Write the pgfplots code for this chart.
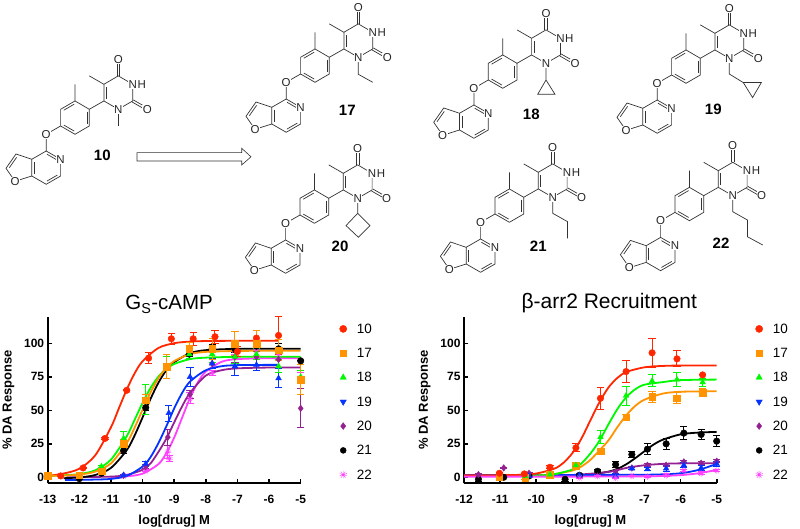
\documentclass[border=0pt]{standalone}
\usepackage{fontspec}
\setmainfont{Liberation Sans}
\usepackage{pgfplots}
\pgfplotsset{compat=1.18}
\usetikzlibrary{calc}
\usetikzlibrary{plotmarks}
\definecolor{cA}{HTML}{FF2600}
\definecolor{cB}{HTML}{FF9300}
\definecolor{cC}{HTML}{00F900}
\definecolor{cD}{HTML}{0433FF}
\definecolor{cE}{HTML}{942192}
\definecolor{cF}{HTML}{000000}
\definecolor{cG}{HTML}{FF40FF}
\pgfplotsset{
  cur/.style={no marks,smooth,line width=1.8pt,forget plot,color=#1},
  pts/.style 2 args={only marks,forget plot,color=#1,mark=#2,mark size=3.3pt,mark options={solid,fill=#1,draw=#1},
    error bars/.cd,y dir=both,y explicit,error bar style={line width=1pt,color=#1},
    error mark options={rotate=90,mark size=3.6pt,line width=1pt,color=#1}},
  myaxis/.style={
    scale only axis,clip=false,
    axis x line*=bottom,axis y line*=left,
    ymin=-4.5,ymax=120,
    height=166.6pt,
    ytick={0,25,50,75,100},
    axis line style={line width=2pt},
    tick style={line width=1.6pt,black},
    major tick length=4pt,
    xtick distance=1,
    /pgf/number format/assume math mode=true,
    ticklabel style={font=\bfseries\fontsize{12}{13}\selectfont},
    xticklabel style={yshift=-8pt},
    label style={font=\bfseries\fontsize{13}{14}\selectfont},
    legend cell align=left,
    legend style={draw=none,fill=none,font=\fontsize{13.5}{14}\selectfont,row sep=15.3pt,inner sep=0pt,
      nodes={inner sep=0pt,text height=9pt,text depth=0pt},
      /tikz/column 1/.style={column sep=10pt}},
  },
}
\tikzset{
  lab/.style={fill=white,inner sep=.6pt,font=\fontsize{11.5}{12}\selectfont,text=black!85},
  bn/.style={line width=.7pt,draw=black!80},
}
% double bond inner line on the right of a->b
\newcommand{\db}[2]{\draw[bn] ($(#1)!.14!(#2)!-2.4pt!90:(#2)$) -- ($(#2)!.14!(#1)!2.4pt!90:(#1)$);}
\newcommand{\co}[2]{\draw[bn] ($(#1)!1.2pt!90:(#2)$) -- ($(#2)!1.2pt!-90:(#1)$);
  \draw[bn] ($(#1)!1.2pt!-90:(#2)$) -- ($(#2)!1.2pt!90:(#1)$);}
% #1,#2: position of N1 in image pixels; #3: the substituent on N1
\newcommand{\core}[3]{
\begin{scope}[shift={(#1pt,529pt-#2pt)},x=1pt,y=-1pt]
 \coordinate (N1) at (0,0); \coordinate (C2) at (14.4,-8.35); \coordinate (N3) at (14.4,-25);
 \coordinate (C4) at (0,-33.4); \coordinate (C5) at (-14.4,-25); \coordinate (C6) at (-14.4,-8.35);
 \coordinate (O4) at (0,-50); \coordinate (O2) at (29,0); \coordinate (M5) at (-29,-33.4);
 \coordinate (P1) at (-43.3,-8.35); \coordinate (P2) at (-29,0); \coordinate (P3) at (-29,16.7);
 \coordinate (P4) at (-43.3,25); \coordinate (P5) at (-57.7,16.7); \coordinate (P6) at (-57.7,0);
 \coordinate (MP) at (-43.3,-25); \coordinate (OL) at (-72.1,25);
 \coordinate (Q1) at (-72.1,41.7); \coordinate (Qn) at (-57.7,50); \coordinate (Q3) at (-57.7,66.7);
 \coordinate (Q4) at (-72.1,75); \coordinate (Q5) at (-86.5,66.7); \coordinate (Q6) at (-86.5,50);
 \coordinate (F3) at (-102.3,44.7); \coordinate (F2) at (-112.3,59); \coordinate (FO) at (-103.3,72);
 \draw[bn] (N1)--(C2)--(N3)--(C4)--(C5)--(C6)--cycle;
 \draw[bn] (P1)--(P2)--(P3)--(P4)--(P5)--(P6)--cycle;
 \draw[bn] (P2)--(C6) (C5)--(M5) (P1)--(MP) (P5)--(OL)--(Q1);
 \draw[bn] (Q1)--(Qn)--(Q3)--(Q4)--(Q5)--(Q6)--cycle;
 \draw[bn] (Q6)--(F3)--(F2)--(FO)--(Q5);
 \db{C6}{C5} \db{P6}{P1} \db{P2}{P3} \db{P4}{P5}
 \db{Q1}{Qn} \db{Q3}{Q4} \db{Q5}{Q6} \db{F2}{F3}
 \co{C4}{O4} \co{C2}{O2}
 #3
 \node[lab] at (O4) {O}; \node[lab] at (O2) {O}; \node[lab] at (N1) {N};
 \node[lab] at (N3) {N}; \node[lab,anchor=west,inner sep=0pt] at ($(N3)+(4.6,0)$) {H};
 \node[lab] at (OL) {O}; \node[lab] at (Qn) {N}; \node[lab] at (FO) {O};
\end{scope}}
\newcommand{\mnum}[3]{\node[font=\bfseries\fontsize{15}{16}\selectfont,inner sep=0pt] at (#1pt,529pt-#2pt) {#3};}
\begin{document}
\begin{tikzpicture}
\path[use as bounding box] (0,0) rectangle (800pt,529pt);
% structures
\core{118.3}{109.3}{\draw[bn] (N1)--(0,16.7);}
\core{358.3}{57.3}{\draw[bn] (N1)--(0,17)--(14.4,25);}
\core{357.7}{198.3}{\draw[bn] (N1)--(0,15)--(12.3,27.3)--(0.7,39)--(-11.7,27.3)--(0,15);}
\core{546}{63.3}{\draw[bn] (N1)--(0,16.7)--(9,31)--(-8.3,31)--(0,16.7);}
\core{729.3}{58.3}{\draw[bn] (N1)--(0,15.7)--(14,24.3)--(23.3,39.3)--(32,24.3)--(14,24.3);}
\core{552.7}{197.3}{\draw[bn] (N1)--(0,16)--(14.7,24.3)--(14.7,41);}
\core{732.7}{195.7}{\draw[bn] (N1)--(0,16)--(14.7,24.3)--(14.7,41)--(30,49.3);}
\mnum{102.3}{155.7}{10}\mnum{347.3}{110.3}{17}\mnum{340}{246.7}{20}
\mnum{531.3}{114}{18}\mnum{713.3}{109}{19}\mnum{538.3}{246}{21}\mnum{721}{243.3}{22}
\draw[line width=.6pt,black!80,fill=white] (137pt,529pt-152.7pt)--(241.7pt,529pt-152.7pt)--(241.7pt,529pt-148.3pt)--(251pt,529pt-156.8pt)--(241.7pt,529pt-165pt)--(241.7pt,529pt-161pt)--(137pt,529pt-161pt)--cycle;

% left chart
\begin{axis}[myaxis,at={(47.7pt,45.7pt)},anchor=south west,width=253pt,
  xmin=-13,xmax=-5,
  title={\fontsize{20.5}{22}\selectfont G\textsubscript{S}-cAMP},
  title style={at={(0.48,1)},anchor=south,yshift=-6pt,font=\normalfont},
  xlabel={log[drug] M},ylabel={\% DA Response},
  xlabel style={yshift=-5pt},
  ylabel style={yshift=3pt},
  legend style={at={(1.153,0.955)},anchor=north west},
]
\addlegendimage{only marks,mark=*,color=cA,mark size=3.6pt}\addlegendentry{10}
\addlegendimage{only marks,mark=square*,color=cB,mark size=3.4pt}\addlegendentry{17}
\addlegendimage{only marks,mark=triangle*,color=cC,mark size=3.6pt}\addlegendentry{18}
\addlegendimage{only marks,mark=triangle*,mark options={rotate=180},color=cD,mark size=3.6pt}\addlegendentry{19}
\addlegendimage{only marks,mark=diamond*,color=cE,mark size=3.4pt}\addlegendentry{20}
\addlegendimage{only marks,mark=*,color=cF,mark size=3pt}\addlegendentry{21}
\addlegendimage{only marks,mark=10-pointed star,color=cG,mark size=3.8pt}\addlegendentry{22}
% 22
\addplot[cur=cG] coordinates {(-11,0.2)(-10.5,0.7)(-10,2.7)(-9.5,9.8)(-9.25,18)(-9,29.7)(-8.75,44.5)(-8.5,59.3)(-8.25,71)(-8,79)(-7.5,86.3)(-7,88.3)(-6,89)(-5,89)};
\addplot[pts={cG}{10-pointed star}] coordinates {(-10.6,1)+-(0,0.5)(-9.9,5)+-(0,1)(-9.2,19)+-(0,5)(-9.15,14)+-(0,2)(-8.5,59)+-(0,4)(-7.8,78)+-(0,2)(-7.1,95)+-(0,3)(-6.4,95)+-(0,5)(-5.7,92)+-(0,5)(-5,72)+-(0,6)};
% 20
\addplot[cur=cE] coordinates {(-12.4,0)(-11,0.5)(-10.5,1.8)(-10,5.6)(-9.75,10.3)(-9.5,18.9)(-9.25,28.8)(-9,41)(-8.75,53)(-8.5,63)(-8,76)(-7.5,80)(-7,81.4)(-6,82)(-5,82)};
\addplot[pts={cE}{diamond*}] coordinates {(-10.6,1.5)+-(0,0.5)(-9.9,8)+-(0,1.5)(-9.2,30)+-(0,6)(-8.5,62)+-(0,3)(-7.8,85)+-(0,4)(-7.08,90)+-(0,4)(-6.4,90)+-(0,6)(-5.7,88)+-(0,6)(-5,51.5)+-(0,14.5)};
% 19
\addplot[cur=cD] coordinates {(-12.45,-2)(-12,-1.9)(-11.5,-1.7)(-11,-1.2)(-10.5,1)(-10,8)(-9.75,15)(-9.5,25.5)(-9.25,38)(-9,51.5)(-8.75,63)(-8.5,71.5)(-8,80)(-7.5,83)(-7,83.8)(-6,84)(-5.7,84)};
\addplot[pts={cD}{triangle*,mark options={rotate=180}}] coordinates {(-10.6,1.5)+-(0,0.5)(-9.9,10)+-(0,2)(-9.17,48)+-(0,6)(-8.5,75)+-(0,7)(-7.8,85)+-(0,4)(-7.08,83)+-(0,7)(-6.4,84)+-(0,4)(-5.7,74)+-(0,7)};
% 21
\addplot[cur=cF] coordinates {(-12.5,-0.7)(-12,-0.1)(-11.5,1.7)(-11,7)(-10.5,20.3)(-10.25,31.3)(-10,44.7)(-9.75,58.5)(-9.5,70.6)(-9.25,80)(-9,86)(-8.5,92.7)(-8,95)(-7,96)(-6,96)(-5,96)};
\addplot[pts={cF}{*}] coordinates {(-12,-1)+-(0,0.5)(-11.3,3)+-(0,0.5)(-10.6,20)+-(0,2)(-9.9,52)+-(0,2)(-9.24,82)+-(0,2)(-8.52,92)+-(0,2)(-7.8,96)+-(0,3)(-7.08,96)+-(0,3)(-6.4,98)+-(0,4)(-5.7,96)+-(0,4)(-5,87)+-(0,0)};
% 18
\addplot[cur=cC] coordinates {(-13,1.1)(-12.5,1.5)(-12,2.4)(-11.5,5.2)(-11,13.2)(-10.5,30.7)(-10.25,43)(-10,55.6)(-9.75,66.7)(-9.5,75.2)(-9.25,81)(-9,84.7)(-8.5,88.3)(-8,89.4)(-7,90)(-6,90)(-5,90)};
\addplot[pts={cC}{triangle*}] coordinates {(-11.3,8)+-(0,1)(-10.6,29)+-(0,5)(-9.9,58)+-(0,11)(-9.24,82)+-(0,8)(-8.52,92)+-(0,3)(-7.8,92)+-(0,6)(-7.08,90)+-(0,5)(-6.4,92)+-(0,4)(-5.7,83)+-(0,5)(-5,75)+-(0,5)};
% 10
\addplot[cur=cA] coordinates {(-13,1)(-12.5,2.8)(-12,6.4)(-11.5,16.3)(-11,37.3)(-10.75,51.5)(-10.5,65.6)(-10.25,77.7)(-10,86.7)(-9.5,96.6)(-9,100.2)(-8.5,101.4)(-8,101.8)(-7,102)(-5.7,102)};
\addplot[pts={cA}{*}] coordinates {(-12.59,1)+-(0,0.5)(-11.88,7)+-(0,0.5)(-11.19,29)+-(0,0.5)(-10.5,65)+-(0,0.5)(-9.81,89)+-(0,4)(-9.09,103.5)+-(0,4)(-8.4,103.5)+-(0,5)(-7.71,105)+-(0,5)(-7,94)+-(0,4)(-6.4,104)+-(0,6)(-5.7,106)+-(0,14)};
% 17
\addplot[cur=cB] coordinates {(-13,1.1)(-12.5,1.3)(-12,2)(-11.5,4.2)(-11,10.4)(-10.5,25.5)(-10.25,37.2)(-10,50.4)(-9.75,63.3)(-9.5,73.9)(-9.25,81.7)(-9,86.9)(-8.5,92)(-8,93.7)(-7,94.4)(-6,94.5)(-5,94.5)};
\addplot[pts={cB}{square*}] coordinates {(-13,1)+-(0,0.5)(-12,1.5)+-(0,0.5)(-11.3,4.5)+-(0,1)(-10.6,25)+-(0,3)(-9.9,57.5)+-(0,4)(-9.24,82.5)+-(0,9)(-8.52,96)+-(0,5)(-7.8,96)+-(0,8)(-7.08,100)+-(0,9)(-6.4,100)+-(0,10)(-5.7,95)+-(0,8)(-5,73)+-(0,11)};
\end{axis}

% right chart
\begin{axis}[myaxis,at={(464pt,45.7pt)},anchor=south west,width=252.7pt,
  xmin=-12,xmax=-5,
  title={\fontsize{21}{22}\selectfont β-arr2 Recruitment},
  title style={at={(0.575,1)},anchor=south,yshift=-6pt,font=\normalfont},
  xlabel={log[drug] M},ylabel={\% DA Response},
  xlabel style={yshift=-5pt},
  ylabel style={yshift=3pt},
  legend style={at={(1.153,0.955)},anchor=north west},
]
\addlegendimage{only marks,mark=*,color=cA,mark size=3.6pt}\addlegendentry{10}
\addlegendimage{only marks,mark=square*,color=cB,mark size=3.4pt}\addlegendentry{17}
\addlegendimage{only marks,mark=triangle*,color=cC,mark size=3.6pt}\addlegendentry{18}
\addlegendimage{only marks,mark=triangle*,mark options={rotate=180},color=cD,mark size=3.6pt}\addlegendentry{19}
\addlegendimage{only marks,mark=diamond*,color=cE,mark size=3.4pt}\addlegendentry{20}
\addlegendimage{only marks,mark=*,color=cF,mark size=3pt}\addlegendentry{21}
\addlegendimage{only marks,mark=10-pointed star,color=cG,mark size=3.8pt}\addlegendentry{22}
% 21
\addplot[cur=cF] coordinates {(-12,1)(-10,1)(-9,1.2)(-8.5,2)(-8,4.2)(-7.75,6.3)(-7.5,9.8)(-7.25,14.4)(-7,19.5)(-6.75,24.4)(-6.5,28)(-6,32.1)(-5.5,33.4)(-5,33.9)};
\addplot[pts={cF}{*}] coordinates {(-11.6,-1.5)+-(0,2)(-10.9,0)+-(0,0.5)(-10.2,1)+-(0,0.5)(-9.2,-1.5)+-(0,2)(-8.8,1.5)+-(0,1.5)(-8.3,4.5)+-(0,1.5)(-7.8,9.5)+-(0,2)(-7.35,17)+-(0,2)(-6.92,21)+-(0,4)(-6.4,25)+-(0,4)(-5.91,33)+-(0,5)(-5.43,32)+-(0,4)(-5,27)+-(0,4)};
% 20
\addplot[cur=cE] coordinates {(-12,1.5)(-10,1.5)(-9,1.7)(-8,4)(-7.5,7)(-7,9)(-6.5,10)(-6,10.4)(-5,10.5)};
\addplot[pts={cE}{diamond*}] coordinates {(-11.6,2)+-(0,0.5)(-10.9,7)+-(0,0.5)(-10.2,3)+-(0,0.5)(-7.8,4)+-(0,1)(-7.35,7)+-(0,1)(-6.92,9)+-(0,1)(-6.4,9)+-(0,1)(-5.91,11.5)+-(0,1)(-5.43,10.5)+-(0,1)(-5,12)+-(0,1)};
% 19
\addplot[cur=cD] coordinates {(-12,1.7)(-10,1.7)(-8,1.8)(-7,1.9)(-6.5,2.2)(-6,3)(-5.5,5.5)(-5,10)};
\addplot[pts={cD}{triangle*,mark options={rotate=180}}] coordinates {(-10.2,1)+-(0,1)(-8.8,1.5)+-(0,1)(-7.8,1)+-(0,2)(-7.35,6.5)+-(0,1)(-6.92,6)+-(0,1)(-6.4,6.5)+-(0,2)(-5.91,9)+-(0,2)(-5.43,7)+-(0,2)(-5,10)+-(0,2)};
% 17
\addplot[cur=cB] coordinates {(-12,1)(-10.5,1)(-10,1.3)(-9.5,2.4)(-9,5)(-8.75,8)(-8.5,13)(-8.25,20)(-8,27.5)(-7.75,37.5)(-7.5,46.5)(-7.25,53.5)(-7,58)(-6.5,62.5)(-6,63.9)(-5,64.3)};
\addplot[pts={cB}{square*}] coordinates {(-11.02,0.5)+-(0,1.5)(-10.31,-0.5)+-(0,1.5)(-9.62,2)+-(0,1)(-8.9,8.5)+-(0,2)(-8.22,19.5)+-(0,2)(-7.51,45)+-(0,2)(-6.79,60)+-(0,4)(-6.1,59)+-(0,4)(-5.39,63)+-(0,3)};
% 18
\addplot[cur=cC] coordinates {(-12,1)(-10.5,1.1)(-10,1.3)(-9.5,2.3)(-9,5.8)(-8.75,10.3)(-8.5,17.7)(-8.25,27.2)(-8,39.5)(-7.75,51)(-7.5,60)(-7.25,65.9)(-7,69.2)(-6.5,71.1)(-6,72.6)(-5,73)};
\addplot[pts={cC}{triangle*}] coordinates {(-10.3,1)+-(0,1)(-9.62,2)+-(0,1)(-8.9,9)+-(0,1)(-8.22,30)+-(0,5)(-7.51,61)+-(0,7)(-6.79,72)+-(0,4.5)(-6.1,73)+-(0,5)(-5.39,71)+-(0,3)};
% 10
\addplot[cur=cA] coordinates {(-12,1.5)(-11,1.6)(-10.5,1.8)(-10,2.8)(-9.5,6.4)(-9.25,10.7)(-9,18)(-8.75,28.8)(-8.5,42.5)(-8.25,56)(-8,67)(-7.75,74.3)(-7.5,78.7)(-7,82.2)(-6.5,83.2)(-6,83.5)(-5,83.5)};
\addplot[pts={cA}{*}] coordinates {(-11.02,3)+-(0,0.5)(-10.33,2.5)+-(0,0.5)(-9.62,7.5)+-(0,1)(-8.9,22)+-(0,3)(-8.22,59)+-(0,8)(-7.51,79)+-(0,8)(-6.79,93)+-(0,11)(-6.1,88.5)+-(0,6)(-5.39,76.5)+-(0,0)};
% 22
\addplot[cur=cG] coordinates {(-12,0.5)(-9,0.5)(-7,0.7)(-6.5,1)(-6,1.6)(-5.5,3)(-5,5.5)};
\addplot[pts={cG}{10-pointed star}] coordinates {(-8.8,-0.5)+-(0,0.5)(-8.3,1)+-(0,0.5)(-7.8,-0.5)+-(0,0.5)(-7.35,1)+-(0,0.5)(-6.92,0.5)+-(0,1)(-6.4,1.5)+-(0,1)(-5.91,5)+-(0,1)(-5.43,3)+-(0,1)(-5,5)+-(0,1)};
\end{axis}
\end{tikzpicture}
\end{document}
